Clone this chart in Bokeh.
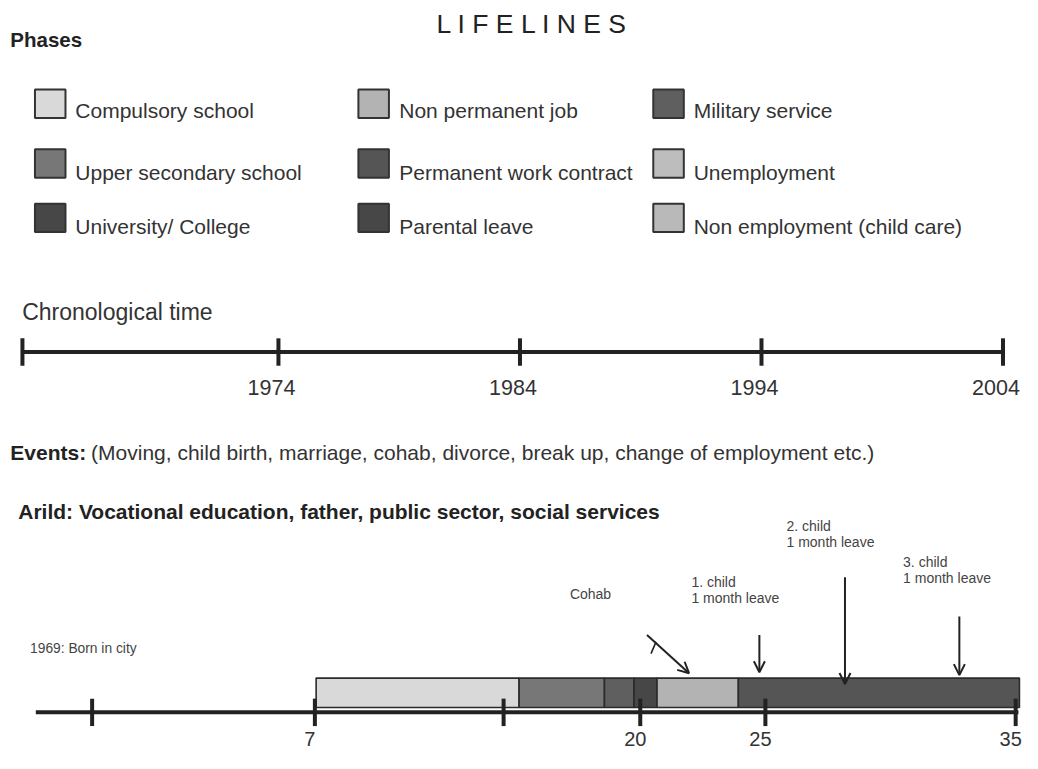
from bokeh.plotting import figure
from bokeh.models import Range1d, Arrow, OpenHead, ColumnDataSource
from bokeh.core.properties import value
from bokeh.embed import file_html
from bokeh.resources import INLINE

FONT = value("Liberation Sans")

# ---------------- data ----------------
phase_names = ["Compulsory school", "Upper secondary school", "University/ College",
               "Non permanent job", "Permanent work contract", "Parental leave",
               "Military service", "Unemployment", "Non employment (child care)"]
phase_colors = ["#d9d9d9", "#777777", "#474747",
                "#b3b3b3", "#555555", "#474747",
                "#5f5f5f", "#bdbdbd", "#b9b9b9"]

chrono_years = [1974, 1984, 1994, 2004]
chrono_start = 1963.4          # left end of the chronological line (unlabelled tick)

life_phase = ["Compulsory school", "Upper secondary school", "Military service",
              "University/ College", "Non permanent job", "Permanent work contract"]
life_start = [7.05, 15.16, 18.57, 19.75, 20.67, 23.92]
life_end = [15.16, 18.57, 19.75, 20.67, 23.92, 35.15]

age_ticks = [-1.9, 7, 14.54, 20, 25, 35]
age_tick_labels = ["", "7", "", "20", "25", "35"]
age_line = [-4.15, 35.11]

event_labels = ["Cohab", "1. child", "2. child", "3. child"]
event_sub = ["", "1 month leave", "1 month leave", "1 month leave"]
event_from_age = [20.27, 24.76, 28.18, 32.75]
event_to_age = [21.95, 24.76, 28.18, 32.75]

# ---------------- layout calibration ----------------
AGE_PX0, AGE_REF, AGE_PPU = 694.25, 21.75, 25.42
YR_PX0, YR_REF, YR_PPU = 650.25, 1989.0, 24.53
X0, X1 = 0, 1038

p = figure(width=1022, height=753, x_range=Range1d(X0, X1), y_range=Range1d(769, 0),
           output_backend="svg", toolbar_location=None, min_border=0,
           x_axis_location=None, y_axis_location=None)
p.grid.visible = False
p.outline_line_color = None
p.background_fill_color = "white"
p.extra_x_ranges = {
    "age": Range1d(AGE_REF + (X0 - AGE_PX0) / AGE_PPU, AGE_REF + (X1 - AGE_PX0) / AGE_PPU),
    "year": Range1d(YR_REF + (X0 - YR_PX0) / YR_PPU, YR_REF + (X1 - YR_PX0) / YR_PPU),
}

TXT = "#333333"
MID = "middle"

# title
p.text(x=[540], y=[24], text=["L I F E L I N E S"], text_font=FONT, text_font_size=value("26.5px"),
       text_color="#222222", text_align="center", text_baseline=MID)
p.text(x=[10], y=[40], text=["Phases"], text_font=FONT, text_font_size=value("20.5px"),
       text_font_style="bold", text_color="#222222", text_baseline=MID)

# legend
col_sq = [50.5, 379, 678.5]
col_tx = [76, 405, 704]
row_cy = [105.5, 166.5, 222]
row_txt = [112, 176, 231]
lx, ly, ltx, lty = [], [], [], []
for i, name in enumerate(phase_names):
    c, r = i // 3, i % 3
    lx.append(col_sq[c]); ly.append(row_cy[r])
    ltx.append(col_tx[c]); lty.append(row_txt[r])
p.rect(x=lx, y=ly, width=31, height=29, fill_color=phase_colors, line_color="#333333", line_width=2)
p.text(x=ltx, y=lty, text=phase_names, text_font=FONT, text_font_size=value("21px"),
       text_color=TXT, text_baseline=MID)

# chronological time
p.text(x=[22], y=[318], text=["Chronological time"], text_font=FONT, text_font_size=value("23px"),
       text_color=TXT, text_baseline=MID)
LINE_Y = 359
p.segment(x0=[chrono_start], y0=[LINE_Y], x1=[chrono_years[-1]], y1=[LINE_Y],
          x_range_name="year", line_color="#222222", line_width=4)
ticks_y = [chrono_start] + chrono_years
p.segment(x0=ticks_y, y0=[LINE_Y - 14] * len(ticks_y), x1=ticks_y, y1=[LINE_Y + 14] * len(ticks_y),
          x_range_name="year", line_color="#222222", line_width=4)
p.text(x=chrono_years, y=[395] * len(chrono_years), text=[str(v) for v in chrono_years],
       x_range_name="year", x_offset=-7, text_font=FONT, text_font_size=value("21.5px"),
       text_color=TXT, text_align="center", text_baseline=MID)

# events heading
p.text(x=[10], y=[462], text=["Events:"], text_font=FONT, text_font_size=value("21px"),
       text_font_style="bold", text_color="#222222", text_baseline=MID)
p.text(x=[92], y=[462],
       text=["(Moving, child birth, marriage, cohab, divorce, break up, change of employment etc.)"],
       text_font=FONT, text_font_size=value("21px"), text_color=TXT, text_baseline=MID)
p.text(x=[18], y=[522], text=["Arild: Vocational education, father, public sector, social services"],
       text_font=FONT, text_font_size=value("21px"), text_font_style="bold",
       text_color="#222222", text_baseline=MID)

# lifeline bar
cmap = dict(zip(phase_names, phase_colors))
p.quad(left=life_start, right=life_end, top=[692] * len(life_start), bottom=[722] * len(life_start),
       x_range_name="age", fill_color=[cmap[n] for n in life_phase],
       line_color="#2b2b2b", line_width=1.6)

# age axis
AX_Y = 727
p.segment(x0=[age_line[0]], y0=[AX_Y], x1=[age_line[1]], y1=[AX_Y], x_range_name="age",
          line_color="#222222", line_width=4)
p.segment(x0=age_ticks, y0=[AX_Y - 14] * len(age_ticks), x1=age_ticks, y1=[AX_Y + 14] * len(age_ticks),
          x_range_name="age", line_color="#222222", line_width=4)
lab_x = [t for t, l in zip(age_ticks, age_tick_labels) if l]
lab_t = [l for l in age_tick_labels if l]
p.text(x=lab_x, y=[754] * len(lab_x), text=lab_t, x_range_name="age", x_offset=-5,
       text_font=FONT, text_font_size=value("20px"), text_color=TXT, text_align="center",
       text_baseline=MID)

# event annotations
SMALL = value("14px")
ev_tx = [578.3, 701.7, 798.3, 916.7]
ev_ty = [606, 593.5, 536.5, 573]
p.text(x=ev_tx, y=ev_ty, text=event_labels, text_font=FONT, text_font_size=SMALL,
       text_color="#444444", text_baseline=MID)
p.text(x=ev_tx[1:], y=[v + 16.5 for v in ev_ty[1:]], text=event_sub[1:], text_font=FONT,
       text_font_size=SMALL, text_color="#444444", text_baseline=MID)
p.text(x=[30], y=[662], text=["1969: Born in city"], text_font=FONT, text_font_size=value("13.8px"),
       text_color="#444444", text_baseline=MID)

arrow_src = ColumnDataSource(dict(
    xs=event_from_age, xe=event_to_age,
    ys=[648, 648, 589, 629], ye=[687, 686, 698, 689]))
p.add_layout(Arrow(end=OpenHead(size=11, line_width=2, line_color="#222222"),
                   x_start="xs", y_start="ys", x_end="xe", y_end="ye", source=arrow_src,
                   x_range_name="age", line_width=2, line_color="#222222"))
# small hook stroke at the start of the cohab arrow
p.line(x=[event_from_age[0] + 0.36, event_from_age[0] + 0.16], y=[655, 667], x_range_name="age",
       line_color="#222222", line_width=1.6)

open("out.html", "w").write(file_html(p, INLINE))
